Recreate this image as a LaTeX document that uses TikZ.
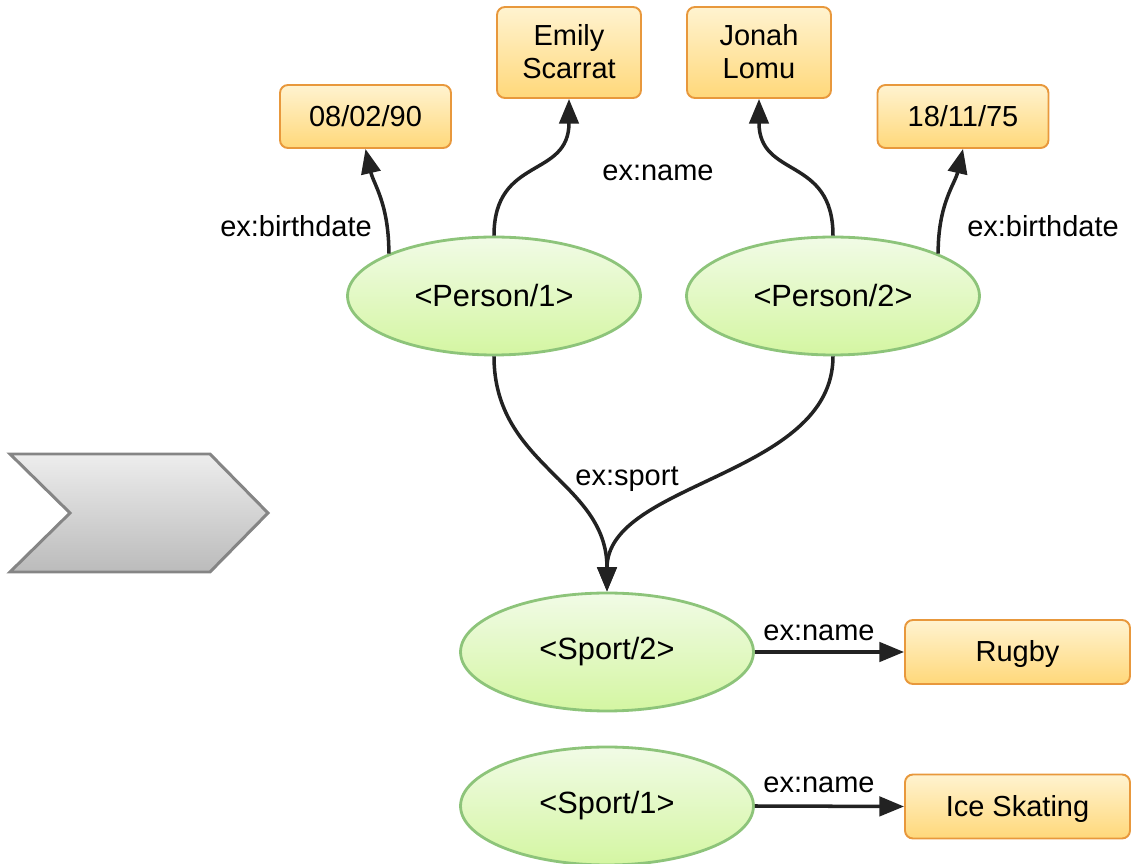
\documentclass[tikz,border=0pt]{standalone}
\usepackage{fontspec}
\setmainfont{Liberation Sans}
\usepackage{xcolor}
\usepackage{tikz}
\usetikzlibrary{shapes.geometric,arrows.meta}

\definecolor{resTop}{HTML}{F1FBE6}
\definecolor{resBot}{HTML}{D4F6A2}
\definecolor{resLine}{HTML}{8DC47A}
\definecolor{litTop}{HTML}{FFF3D0}
\definecolor{litBot}{HTML}{FFD87A}
\definecolor{litLine}{HTML}{E8983C}
\definecolor{chevTop}{HTML}{EDEDED}
\definecolor{chevBot}{HTML}{BBBBBB}
\definecolor{chevLine}{HTML}{858585}
\definecolor{linkCol}{HTML}{222222}

\begin{document}
\begin{tikzpicture}[x=0.02cm,y=-0.02cm,
    resource/.style={ellipse,draw=resLine,line width=1.6pt,top color=resTop,bottom color=resBot,
        minimum width=5.86cm,minimum height=2.36cm,inner sep=0pt,font=\fontsize{17.5}{21}\selectfont},
    literal/.style={rectangle,rounded corners=4.5pt,draw=litLine,line width=1.1pt,top color=litTop,bottom color=litBot,
        inner sep=0pt,align=center,text depth=1pt,font=\fontsize{16.5}{19}\selectfont},
    prop/.style={font=\fontsize{16.5}{19}\selectfont,inner sep=0pt},
    link/.style={draw=linkCol,line width=2pt,-{Triangle[length=14pt,width=11pt]}}]
\useasboundingbox (0,0) rectangle (1134,864);

% Draw the chevron
\draw[chevLine,line width=1.7pt,top color=chevTop,bottom color=chevBot,line join=miter]
    (10,454) -- (210,454) -- (268,513) -- (210,572) -- (10,572) -- (70,513) -- cycle;

% Resources
\node[resource] (p1) at (494,296) {<Person/1>};
\node[resource] (p2) at (833,296) {<Person/2>};
\node[resource] (s2) at (607,652) {<Sport/2>};
\node[resource] (s1) at (607,806) {<Sport/1>};

% Literals
\node[literal,minimum width=3.42cm,minimum height=1.26cm] (bd1) at (365.5,116.5) {08/02/90};
\node[literal,minimum width=2.88cm,minimum height=1.82cm] (n1) at (569,52.5) {Emily\\Scarrat};
\node[literal,minimum width=2.88cm,minimum height=1.82cm] (n2) at (759,52.5) {Jonah\\Lomu};
\node[literal,minimum width=3.42cm,minimum height=1.26cm] (bd2) at (963,116.5) {18/11/75};
\node[literal,minimum width=4.5cm,minimum height=1.28cm] (rug) at (1017.5,652) {Rugby};
\node[literal,minimum width=4.5cm,minimum height=1.28cm] (ice) at (1017.5,806.5) {Ice Skating};

% Links from the persons
\draw[link] (p1.158) .. controls +(0,-50) and +(8,35) .. (bd1.south);
\draw[link] (p1.north) .. controls +(0,-80) and +(0,80) .. (n1.south);
\draw[link] (p2.north) .. controls +(0,-80) and +(0,80) .. (n2.south);
\draw[link] (p2.22) .. controls +(0,-50) and +(-8,35) .. (bd2.south);
\draw[link] (p1.south) .. controls +(0,110) and +(0,-110) .. (s2.north);
\draw[link] (p2.south) .. controls +(0,120) and +(0,-110) .. (s2.north);

% Links from the sports
\draw[link] (s2.east) -- (rug.west);
\draw[link] (s1.east) -- (ice.west);

% Property labels
\node[prop] (l1) at (296,226) {ex:birthdate};
\node[prop] (l2) at (658,173) {ex:name};
\node[prop] (l3) at (1043,226) {ex:birthdate};
\node[prop] (l4) at (627,479) {ex:sport};
\node[prop] (l5) at (819,633) {ex:name};
\node[prop] (l6) at (819,785) {ex:name};
\end{tikzpicture}
\end{document}
